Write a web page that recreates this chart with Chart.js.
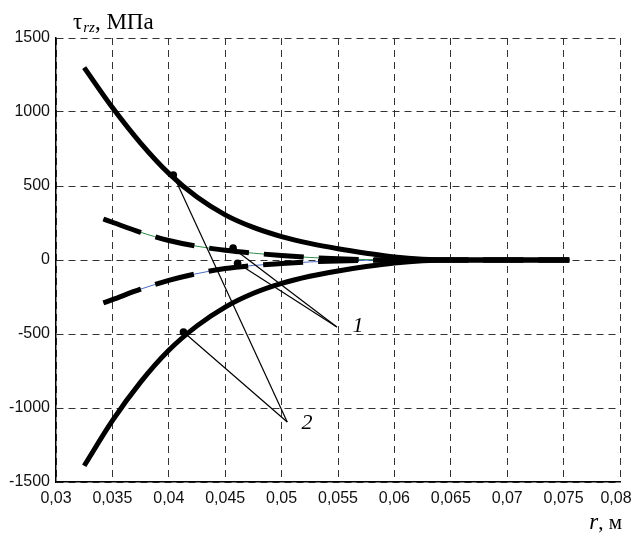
<!DOCTYPE html>
<html>
<head>
<meta charset="utf-8">
<script src="https://cdn.jsdelivr.net/npm/chart.js@4.4.1/dist/chart.umd.min.js"></script>
<style>
  html, body { margin: 0; padding: 0; background: #fff; }
  #wrap { width: 634px; height: 536px; }
</style>
</head>
<body>
<div id="wrap"><canvas id="chart" width="634" height="536"></canvas></div>
<script>
// radius, m
const rSolid  = [0.0325, 0.035, 0.0375, 0.04, 0.0425, 0.045, 0.0475, 0.05, 0.0525, 0.055, 0.0575, 0.06, 0.0625, 0.065, 0.0755];
const rDashed = [0.0342, 0.035, 0.0375, 0.04, 0.0425, 0.045, 0.0475, 0.05, 0.0525, 0.055, 0.0575, 0.06, 0.065, 0.0755];

// tau_rz, MPa
const solidUpper  = [1300, 1030, 790, 585, 425, 305, 220, 158, 112, 76, 46, 20, 5, 0, 0];
const solidLower  = [-1390, -1085, -825, -610, -445, -318, -225, -158, -110, -74, -44, -20, -5, 0, 0];
const dashedUpper = [277, 255, 187, 132, 93, 66, 46, 30, 17, 8, 3, 0, 0, 0];
const dashedLower = [-290, -268, -197, -138, -92, -58, -37, -24, -13, -6, -2, 0, 0, 0];

// callouts: marked point on a curve -> label anchor
const callout1Tips = [[0.0457, 80], [0.0461, -22]];
const callout1End  = [0.0549, -453];
const callout2Tips = [[0.0404, 574], [0.0413, -486]];
const callout2End  = [0.0505, -1095];
const calloutLabels = [
  { text: '1', x: 0.05677, y: -446 },
  { text: '2', x: 0.05225, y: -1101 }
];

const xTickLabels = ['0,03', '0,035', '0,04', '0,045', '0,05', '0,055', '0,06', '0,065', '0,07', '0,075', '0,08'];
const yTicks = [-1500, -1000, -500, 0, 500, 1000, 1500];

const pts = (xs, ys) => xs.map((x, i) => ({ x: x, y: ys[i] }));

function curve(xs, ys, dashed) {
  return {
    data: pts(xs, ys),
    borderColor: '#000',
    borderWidth: 5,
    borderDash: dashed ? [40, 15] : [],
    pointRadius: 0,
    cubicInterpolationMode: 'monotone',
    borderCapStyle: 'butt',
    order: 1
  };
}
function thin(xs, ys, color) {
  return {
    data: pts(xs, ys),
    borderColor: color,
    borderWidth: 1,
    pointRadius: 0,
    cubicInterpolationMode: 'monotone',
    order: 3
  };
}
function callout(tip, end) {
  return {
    data: [{ x: tip[0], y: tip[1] }, { x: end[0], y: end[1] }],
    borderColor: '#000',
    borderWidth: 1.2,
    pointRadius: [3.8, 0],
    pointBackgroundColor: '#000',
    pointBorderWidth: 0,
    tension: 0,
    order: 0
  };
}

const datasets = [
  thin(rSolid, solidUpper, '#2e8b4a'),
  thin(rDashed, dashedUpper, '#2e8b4a'),
  thin(rSolid, solidLower, '#4a6cc4'),
  thin(rDashed, dashedLower, '#4a6cc4'),
  curve(rSolid, solidUpper, false),
  curve(rSolid, solidLower, false),
  curve(rDashed, dashedUpper, true),
  curve(rDashed, dashedLower, true)
];
callout1Tips.forEach(t => datasets.push(callout(t, callout1End)));
callout2Tips.forEach(t => datasets.push(callout(t, callout2End)));

const textPlugin = {
  id: 'texts',
  afterDraw(chart) {
    const ctx = chart.ctx;
    const xs = chart.scales.x, ys = chart.scales.y;
    ctx.save();
    ctx.fillStyle = '#000';
    ctx.textBaseline = 'middle';
    ctx.textAlign = 'center';
    ctx.font = 'italic 22px "Liberation Serif"';
    calloutLabels.forEach(l => {
      ctx.fillText(l.text, xs.getPixelForValue(l.x), ys.getPixelForValue(l.y));
    });

    // y axis title
    ctx.textBaseline = 'alphabetic';
    ctx.textAlign = 'left';
    let x = 73;
    ctx.font = '23px "Liberation Serif"';
    ctx.fillText('τ', x, 29);
    x += ctx.measureText('τ').width + 1;
    ctx.font = 'italic 15px "Liberation Serif"';
    ctx.fillText('rz', x, 32);
    x += ctx.measureText('rz').width;
    ctx.font = '23px "Liberation Serif"';
    ctx.fillText(', МПа', x, 29);

    // x axis title
    ctx.textAlign = 'right';
    ctx.font = '21px "Liberation Serif"';
    const tail = ', м';
    const tailW = ctx.measureText(tail).width;
    ctx.fillText(tail, 622, 529);
    ctx.font = 'italic 23px "Liberation Serif"';
    ctx.fillText('r', 622 - tailW, 529);
    ctx.restore();
  }
};

new Chart(document.getElementById('chart'), {
  type: 'line',
  data: { datasets: datasets },
  options: {
    responsive: false,
    animation: false,
    layout: { padding: { top: 38, right: 0, left: 0, bottom: 0 } },
    plugins: { legend: { display: false }, tooltip: { enabled: false } },
    scales: {
      x: {
        type: 'linear',
        min: 0.03,
        max: 0.08,
        afterBuildTicks(scale) {
          scale.ticks = xTickLabels.map((l, i) => ({ value: 0.03 + i * 0.005 }));
        },
        afterFit(scale) {
          scale.height = 54;
          scale.paddingLeft = 0;
          scale.paddingRight = 14;
        },
        ticks: {
          padding: 7,
          maxRotation: 0,
          autoSkip: false,
          color: '#111',
          font: { family: '"Liberation Sans"', size: 16 },
          // last label sits a little left of its grid line, as in the source
          callback: (v, i) => i === xTickLabels.length - 1 ? xTickLabels[i] + '\u2002' : xTickLabels[i]
        },
        grid: { color: '#333', lineWidth: 1, drawTicks: false },
        border: { display: true, color: '#000', width: 1.5, dash: [7, 5] }
      },
      y: {
        min: -1500,
        max: 1500,
        afterBuildTicks(scale) {
          scale.ticks = yTicks.map(v => ({ value: v }));
        },
        afterFit(scale) {
          scale.width = 56;
          scale.paddingTop = 0;
          scale.paddingBottom = 0;
        },
        ticks: {
          padding: 6,
          color: '#111',
          font: { family: '"Liberation Sans"', size: 16 },
          callback: v => String(v)
        },
        grid: { color: '#333', lineWidth: 1, drawTicks: false },
        border: { display: true, color: '#000', width: 1.5, dash: [7, 5] }
      }
    }
  },
  plugins: [textPlugin]
});
</script>
</body>
</html>
